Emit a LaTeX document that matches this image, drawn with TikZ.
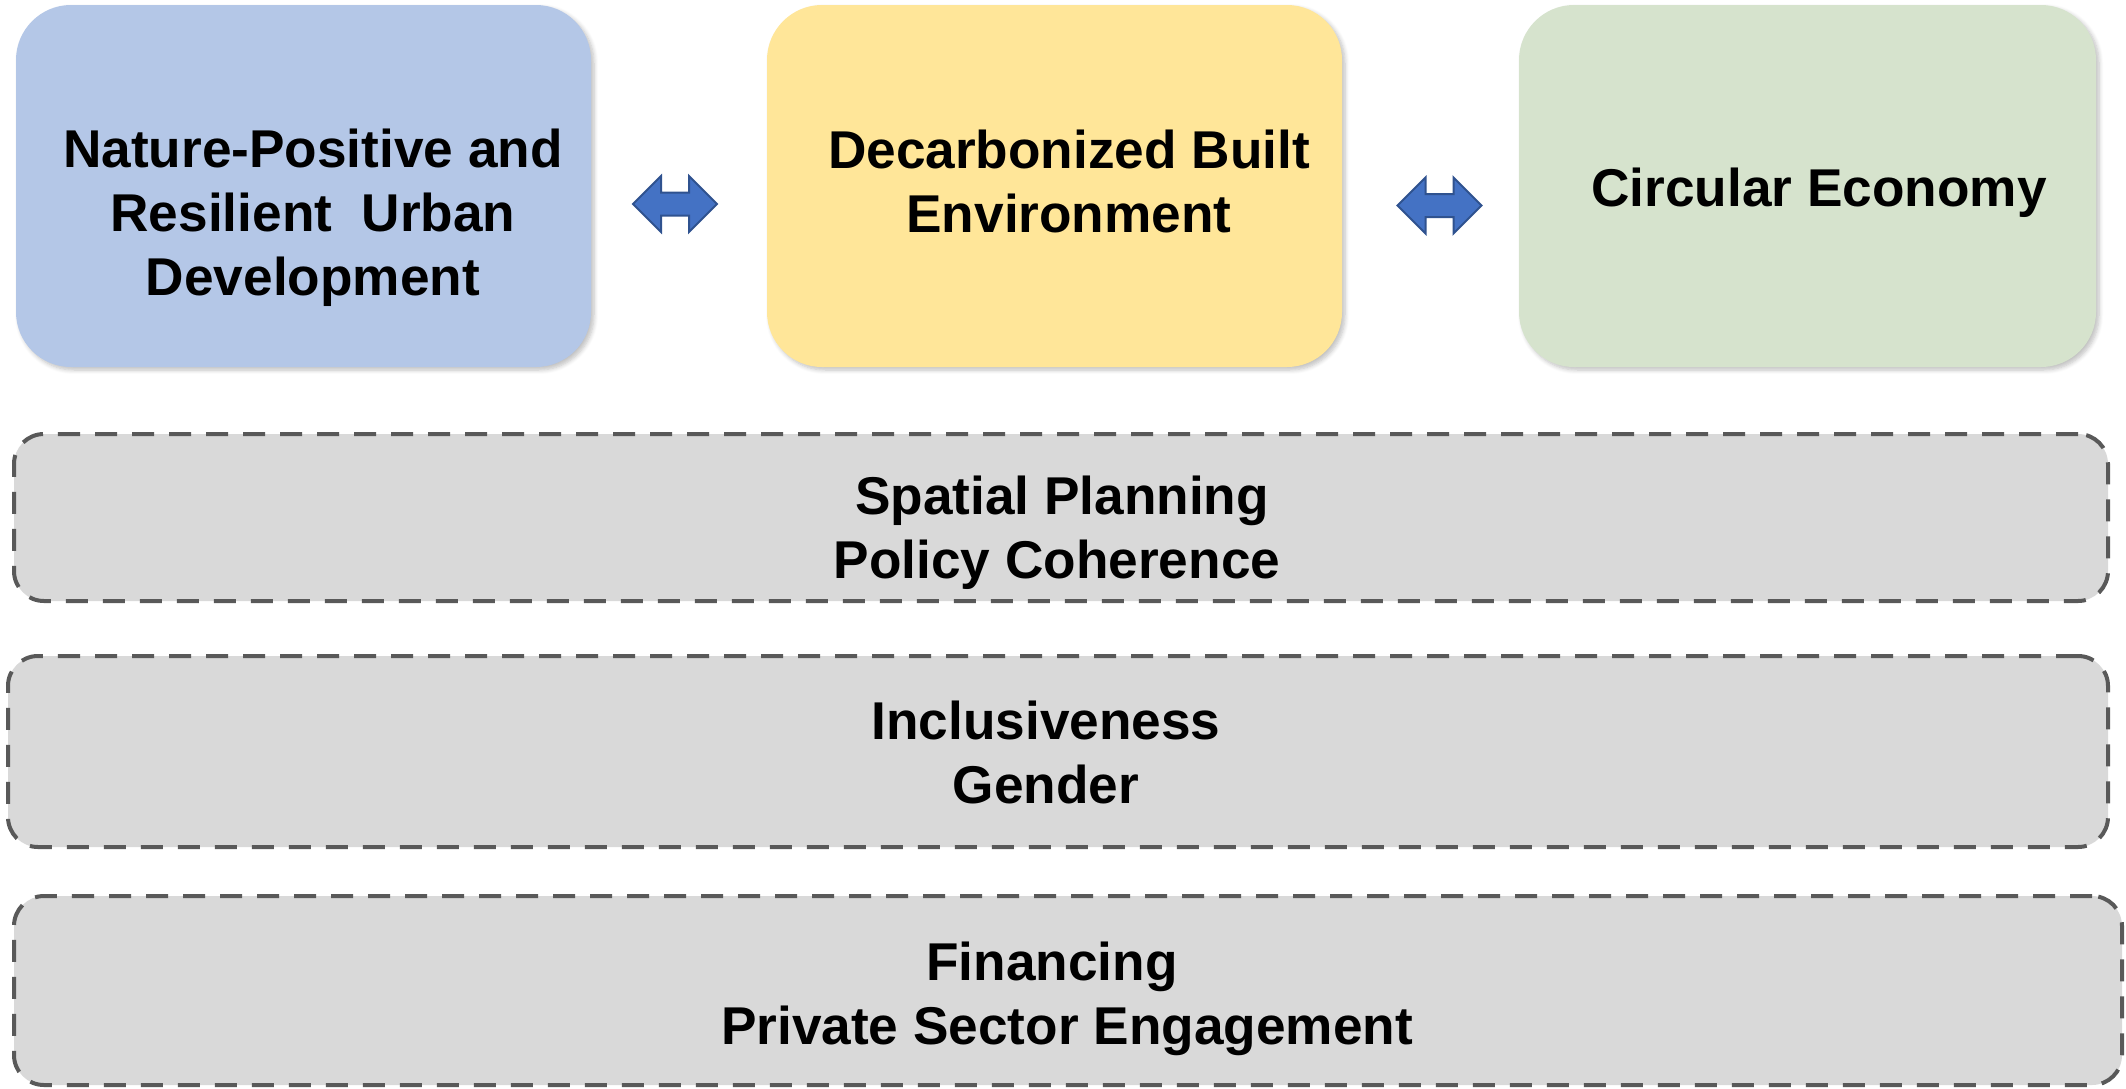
\documentclass[tikz,border=0pt]{standalone}
\usepackage{fontspec}
\setmainfont{Liberation Sans}
\usetikzlibrary{shadows.blur}
\definecolor{cblue}{HTML}{B4C7E7}
\definecolor{cyellow}{HTML}{FFE699}
\definecolor{cgreen}{HTML}{D6E3CD}
\definecolor{cgray}{HTML}{D9D9D9}
\definecolor{cborder}{HTML}{595959}
\definecolor{arrfill}{HTML}{4472C4}
\definecolor{arrdraw}{HTML}{2F528F}
\tikzset{
  topbox/.style={rectangle, rounded corners=27.5pt, inner sep=0pt,
    minimum height=181pt,
    blur shadow={shadow xshift=1.5pt, shadow yshift=-1.5pt, shadow blur steps=6, shadow opacity=25}},
  dashbox/.style={rectangle, rounded corners=15pt, inner sep=0pt, fill=cgray,
    draw=cborder, line width=2pt, dash pattern=on 11pt off 7.5pt},
  label/.style={font=\bfseries\fontsize{26.6}{32}\selectfont, align=center, inner sep=0pt, text=black},
  pics/dblarrow/.style={code={
    \draw[fill=arrfill, draw=arrdraw, line width=1pt, line join=miter]
      (-42,0) -- (-14,-28) -- (-14,-11.5) -- (14,-11.5) -- (14,-28) -- (42,0)
      -- (14,28) -- (14,11.5) -- (-14,11.5) -- (-14,28) -- cycle;
  }}
}
\begin{document}
\begin{tikzpicture}[x=0.5pt, y=-0.5pt]
\useasboundingbox (0,0) rectangle (2126,1088);
% top boxes
\node[topbox, fill=cblue, minimum width=287.5pt] (nature) at (303.5,186) {};
\node[topbox, fill=cyellow, minimum width=287.5pt] (decarb) at (1054.5,186) {};
\node[topbox, fill=cgreen, minimum width=288.5pt] (circ) at (1807.5,186) {};
\node[label] (tnature) at (313,218) {Nature-Positive and\\Resilient\ \ Urban\\Development};
\node[label] (tdecarb) at (1069,181) {Decarbonized Built\\Environment};
\node[label] (tcirc) at (1819,193) {Circular Economy};
% arrows between boxes
\pic at (675,204) {dblarrow};
\pic at (1439.5,205.5) {dblarrow};
% dashed boxes
\node[dashbox, minimum width=1047pt, minimum height=83.5pt] (spatial) at (1061,517.5) {};
\node[dashbox, minimum width=1050pt, minimum height=95.5pt] (incl) at (1058,751.5) {};
\node[dashbox, minimum width=1054pt, minimum height=94.5pt] (fin) at (1068,990.5) {};
\node[label] (tspatial) at (1057,533) {Spatial Planning\hspace*{-5pt}\\Policy Coherence};
\node[label] (tincl) at (1046,752) {Inclusiveness\\Gender};
\node[label] (tfin) at (1067,999) {Financing\hspace*{15pt}\\Private Sector Engagement};
\end{tikzpicture}
\end{document}
